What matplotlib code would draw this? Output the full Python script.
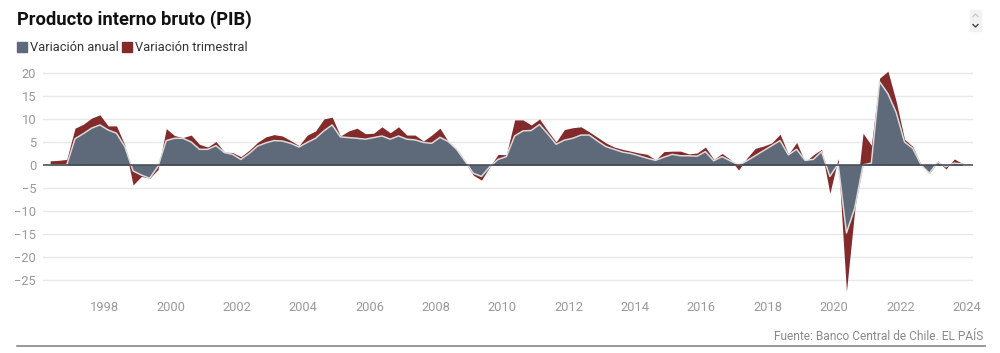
import matplotlib
matplotlib.use("Agg")
import matplotlib.pyplot as plt
from matplotlib.patches import Rectangle
from matplotlib.lines import Line2D
import numpy as np
import pandas as pd

# ---------------- data ----------------
start_quarter = "1996Q2"
end_quarter = "2023Q4"

variacion_anual = [
    0.0, 0.0, 0.0,                 # 1996 Q2-Q4
    5.7, 6.8, 8.0, 8.7,            # 1997
    7.6, 6.9, 4.0, -1.3,           # 1998
    -2.2, -2.9, -0.3, 5.3,         # 1999
    5.8, 5.8, 5.0, 3.4,            # 2000
    3.4, 4.2, 2.7, 2.3,            # 2001
    1.2, 2.5, 4.1, 4.8,            # 2002
    5.3, 5.2, 4.7, 3.9,            # 2003
    4.9, 5.8, 7.4, 8.7,            # 2004
    6.1, 5.95, 5.8, 5.6,           # 2005
    5.95, 6.3, 5.6, 6.3,           # 2006
    5.6, 5.45, 4.9, 4.7,           # 2007
    6.0, 5.1, 3.4, 0.9,            # 2008
    -1.8, -2.5, -0.4, 1.2,         # 2009
    1.8, 6.3, 7.4, 7.5,            # 2010
    8.8, 6.75, 4.5, 5.4,           # 2011
    5.8, 6.5, 6.5, 5.2,            # 2012
    4.0, 3.4, 2.8, 2.5,            # 2013
    2.0, 1.45, 1.0, 1.7,           # 2014
    2.3, 2.0, 2.0, 1.9,            # 2015
    2.9, 0.9, 1.8, 0.9,            # 2016
    0.0, 0.9, 2.0, 3.1,            # 2017
    4.2, 5.3, 2.2, 3.4,            # 2018
    1.0, 1.2, 2.9, -2.5,           # 2019
    0.2, -14.8, -9.4, 0.0,         # 2020
    0.4, 18.1, 15.5, 11.4,         # 2021
    5.0, 3.6, 0.0, -1.8,           # 2022
    0.6, -0.4, 0.4, 0.2,           # 2023
]

variacion_trimestral = [
    0.9, 1.0, 1.2,                 # 1996 Q2-Q4
    8.0, 8.85, 10.2, 10.9,         # 1997
    8.5, 8.5, 4.35, -4.35,         # 1998
    -2.5, -2.9, -1.0, 7.9,         # 1999
    6.4, 5.95, 6.5, 4.5,           # 2000
    3.9, 5.1, 2.8, 2.7,            # 2001
    1.8, 3.2, 4.9, 6.1,            # 2002
    6.6, 6.3, 5.3, 4.2,            # 2003
    6.5, 7.4, 10.0, 10.4,          # 2004
    6.3, 7.4, 8.0, 6.8,            # 2005
    6.9, 8.3, 7.0, 8.3,            # 2006
    6.5, 6.5, 5.2, 6.5,            # 2007
    8.0, 5.1, 3.4, 0.7,            # 2008
    -2.2, -3.3, -0.4, 2.3,         # 2009
    2.2, 9.8, 9.8, 8.7,            # 2010
    10.0, 7.4, 5.0, 7.7,           # 2011
    8.1, 8.3, 7.2, 6.0,            # 2012
    4.8, 3.9, 3.4, 3.0,            # 2013
    2.6, 2.3, 1.1, 2.9,            # 2014
    3.0, 3.0, 2.4, 2.6,            # 2015
    3.9, 1.2, 2.5, 1.2,            # 2016
    -1.1, 1.5, 3.6, 4.1,           # 2017
    4.8, 6.7, 2.3, 4.9,            # 2018
    0.6, 2.2, 3.4, -6.2,           # 2019
    1.4, -27.5, -9.8, 6.9,         # 2020
    4.3, 18.9, 20.4, 13.8,         # 2021
    5.6, 4.0, 0.0, -1.8,           # 2022
    0.9, -0.9, 1.3, 0.3,           # 2023
]

y_ticks = [20, 15, 10, 5, 0, -5, -10, -15, -20, -25]
x_ticks = [1998, 2000, 2002, 2004, 2006, 2008, 2010, 2012, 2014, 2016,
           2018, 2020, 2022, 2024]

title = "Producto interno bruto (PIB)"
legend_labels = ["Variación anual", "Variación trimestral"]
source = "Fuente: Banco Central de Chile. EL PAÍS"

# ---------------- styling ----------------
GRAY = "#5e6979"
RED = "#832a2a"
TICK = "#9a9a9a"
FONT = "Roboto"

periods = pd.period_range(start_quarter, end_quarter, freq="Q")
t = np.array([p.year + (p.quarter - 0.5) / 4 for p in periods])
anual = np.array(variacion_anual)
trim = np.array(variacion_trimestral)

W, H = 1000, 353
fig = plt.figure(figsize=(W / 100, H / 100), dpi=100)
fig.patch.set_facecolor("white")

left, right, top, bottom = 43, 972.7, 62, 295
ax = fig.add_axes([left / W, 1 - bottom / H, (right - left) / W, (bottom - top) / H])
ax.set_xlim(1996.16, 2024.18)
ax.set_ylim(-28.3, 22.4)

for yv in y_ticks:
    if yv != 0:
        ax.axhline(yv, color="#e8e8e8", lw=1.0, zorder=0)

ax.fill_between(t, 0, trim, color=RED, lw=0, zorder=2)
ax.fill_between(t, 0, anual, color=GRAY, lw=0, zorder=3)
ax.plot(t, anual, color="#dcdcdc", lw=1.1, zorder=4, solid_joinstyle="round")
ax.axhline(0, color="#3f4650", lw=1.1, zorder=5)

for s in ax.spines.values():
    s.set_visible(False)
ax.set_yticks(y_ticks)
ax.set_yticklabels([f"{v}".replace("-", "\u2212") for v in y_ticks])
ax.set_xticks(x_ticks)
ax.set_xticklabels([str(v) for v in x_ticks])
ax.tick_params(axis="both", length=0, colors=TICK, labelsize=9.3)
ax.tick_params(axis="y", pad=5)
ax.tick_params(axis="x", pad=4)
for lab in ax.get_xticklabels() + ax.get_yticklabels():
    lab.set_fontfamily(FONT)

# title
fig.text(17 / W, 1 - 20 / H, title, fontsize=13.2, fontweight="bold",
         family=FONT, color="#111111", va="center", ha="left")

# legend
def legend_item(x, label, color):
    fig.patches.append(Rectangle((x / W, 1 - 52 / H), 10 / W, 10 / H,
                                 transform=fig.transFigure, color=color))
    fig.text((x + 13) / W, 1 - 47.5 / H, label, fontsize=9.3, family=FONT,
             color="#333333", va="center", ha="left")

legend_item(17, legend_labels[0], GRAY)
legend_item(122, legend_labels[1], RED)

# source and rule
fig.text(983 / W, 1 - 337 / H, source, fontsize=8.6, family=FONT,
         color="#8a8a8a", va="center", ha="right")
fig.lines.append(Line2D([17 / W, 985 / W], [1 - 346 / H, 1 - 346 / H],
                        transform=fig.transFigure, color="#888888", lw=1.2))

# small scroll widget top-right
fig.patches.append(Rectangle((970 / W, 1 - 20 / H), 11 / W, 10 / H,
                             transform=fig.transFigure, color="#f2f2f2"))
fig.patches.append(Rectangle((970 / W, 1 - 31 / H), 11 / W, 10 / H,
                             transform=fig.transFigure, color="#f2f2f2"))
fig.lines.append(Line2D([973 / W, 975.5 / W, 978 / W],
                        [1 - 16.5 / H, 1 - 14 / H, 1 - 16.5 / H],
                        transform=fig.transFigure, color="#c8c8c8", lw=0.9))
fig.lines.append(Line2D([973 / W, 975.5 / W, 978 / W],
                        [1 - 24.5 / H, 1 - 27 / H, 1 - 24.5 / H],
                        transform=fig.transFigure, color="#444444", lw=1.0))

fig.savefig("out.png", dpi=100, facecolor="white")
